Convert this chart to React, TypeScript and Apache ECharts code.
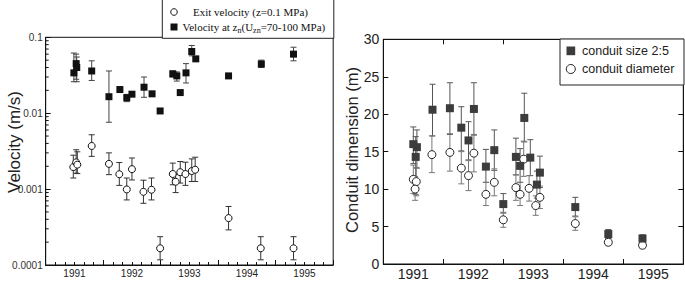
import React, { useEffect, useRef } from "react";
import * as echarts from "echarts";

// ---------- shared ----------
const YEARS = ["1991", "1992", "1993", "1994", "1995"];
const LEFT_Y_LABELS = ["0.0001", "0.001", "0.01", "0.1"];
const LOG_MINOR_MULT = [2, 3, 4, 5, 6, 7, 8, 9];
const LOG_DECADES = [0.0001, 0.001, 0.01];

// ---------- left panel: velocity at z_n (filled squares) ----------
const VZ_T = [1991.49, 1991.53, 1991.54, 1991.8, 1992.1, 1992.29, 1992.41, 1992.5, 1992.71, 1992.85, 1992.99, 1993.21, 1993.28, 1993.34, 1993.44, 1993.54, 1993.61, 1994.18, 1994.75, 1995.31];
const VZ_V = [0.034, 0.045, 0.04, 0.036, 0.0165, 0.0205, 0.016, 0.0178, 0.022, 0.018, 0.0107, 0.033, 0.031, 0.0187, 0.034, 0.065, 0.052, 0.031, 0.0445, 0.06];
const VZ_LO = [0.026, 0.028, 0.026, 0.027, 0.0076, null, 0.0142, null, 0.0162, null, null, 0.03, 0.0265, null, 0.025, 0.057, null, null, 0.04, 0.049];
const VZ_HI = [0.062, 0.06, 0.055, 0.049, 0.036, null, 0.0177, null, 0.03, null, null, 0.036, 0.035, null, 0.045, 0.078, null, null, 0.05, 0.074];

// ---------- left panel: exit velocity (open circles) ----------
const VE_T = [1991.48, 1991.53, 1991.55, 1991.8, 1992.1, 1992.28, 1992.41, 1992.5, 1992.7, 1992.84, 1992.99, 1993.21, 1993.26, 1993.34, 1993.43, 1993.54, 1993.6, 1994.18, 1994.74, 1995.31];
const VE_V = [0.00195, 0.00225, 0.0021, 0.0037, 0.00215, 0.00157, 0.00099, 0.00183, 0.00092, 0.00098, 0.000166, 0.00158, 0.00125, 0.00167, 0.00158, 0.00173, 0.0018, 0.000415, 0.000166, 0.000166];
const VE_LO = [0.0014, 0.00162, 0.0016, 0.0027, 0.00155, 0.00112, 0.00072, 0.00132, 0.00065, 0.00072, 0.000117, 0.00114, 0.0009, 0.0012, 0.00112, 0.00126, 0.00126, 0.00029, 0.000117, 0.000117];
const VE_HI = [0.0028, 0.0033, 0.0031, 0.0052, 0.003, 0.00224, 0.0014, 0.00257, 0.00131, 0.0014, 0.000236, 0.0022, 0.00155, 0.00231, 0.00226, 0.0025, 0.00263, 0.00059, 0.000236, 0.000236];

// ---------- right panel: conduit size 2:5 (filled squares) ----------
const CS_T = [1991.5, 1991.56, 1991.54, 1991.82, 1992.11, 1992.3, 1992.42, 1992.51, 1992.71, 1992.85, 1993.0, 1993.21, 1993.28, 1993.35, 1993.45, 1993.56, 1993.61, 1994.2, 1994.75, 1995.32];
const CS_V = [16.0, 15.6, 14.3, 20.6, 20.8, 18.2, 16.5, 20.7, 13.0, 15.2, 8.0, 14.3, 13.1, 19.5, 14.2, 10.6, 12.2, 7.6, 4.0, 3.4];
const CS_LO = [13.4, 12.8, 9.3, 17.1, 17.3, 15.1, 13.9, 17.2, 10.9, 12.5, 6.8, 11.9, 10.9, 16.3, 11.8, 8.8, 10.2, 6.4, 3.4, 2.9];
const CS_HI = [18.3, 17.9, 17.0, 24.0, 24.2, 21.0, 19.0, 24.2, 15.3, 17.9, 9.4, 16.8, 15.4, 22.8, 16.6, 12.4, 14.4, 8.9, 4.6, 3.9];

// ---------- right panel: conduit diameter (open circles) ----------
const CD_T = [1991.5, 1991.55, 1991.53, 1991.81, 1992.11, 1992.3, 1992.42, 1992.51, 1992.71, 1992.85, 1993.0, 1993.21, 1993.28, 1993.34, 1993.43, 1993.54, 1993.61, 1994.2, 1994.75, 1995.32];
const CD_V = [11.3, 11.0, 10.0, 14.6, 14.9, 12.8, 11.8, 14.8, 9.3, 10.9, 5.9, 10.2, 9.3, 14.0, 10.1, 7.8, 8.9, 5.4, 2.9, 2.5];
const CD_LO = [9.4, 9.1, 8.5, 12.2, 12.4, 10.7, 9.8, 12.3, 7.8, 9.1, 4.9, 8.5, 7.8, 11.7, 8.4, 6.5, 7.4, 4.5, 2.5, 2.1];
const CD_HI = [13.2, 12.9, 11.7, 17.1, 17.4, 15.0, 13.8, 17.3, 10.9, 12.7, 6.9, 11.9, 10.9, 16.4, 11.8, 9.1, 10.4, 6.3, 3.4, 2.9];

const SANS = "'Liberation Sans', Arial, sans-serif";
const SERIF = "'Liberation Serif', 'Times New Roman', serif";
const AXIS_COLOR = "#111";

function points(t: number[], v: number[]) {
  return t.map((x, i) => [x, v[i]]);
}
function bars(t: number[], lo: (number | null)[], hi: (number | null)[]) {
  return t
    .map((x, i) => [x, lo[i], hi[i]])
    .filter((d) => d[1] != null && d[2] != null);
}

function errorBar(cap: number, color: string) {
  return (_params: any, api: any) => {
    const x = api.value(0);
    const lo = api.coord([x, api.value(1)]);
    const hi = api.coord([x, api.value(2)]);
    const h = cap / 2;
    const style = { stroke: color, lineWidth: 1 };
    return {
      type: "group",
      children: [
        { type: "line", shape: { x1: hi[0], y1: hi[1], x2: lo[0], y2: lo[1] }, style },
        { type: "line", shape: { x1: hi[0] - h, y1: hi[1], x2: hi[0] + h, y2: hi[1] }, style },
        { type: "line", shape: { x1: lo[0] - h, y1: lo[1], x2: lo[0] + h, y2: lo[1] }, style },
      ],
    };
  };
}

export default function App() {
  const ref = useRef<HTMLDivElement>(null);

  useEffect(() => {
    document.body.style.margin = "0";
    if (!ref.current) return;
    const chart = echarts.init(ref.current, undefined, { renderer: "svg" });

    const minorLog: number[][] = [];
    LOG_DECADES.forEach((d) => LOG_MINOR_MULT.forEach((m) => minorLog.push([1991, d * m])));

    const valueX = (gridIndex: number, extra: any = {}) => ({
      type: "value",
      gridIndex,
      min: 1991,
      max: 1996,
      interval: 1,
      axisLine: { show: true, lineStyle: { color: AXIS_COLOR, width: 1 } },
      axisTick: { show: true, inside: true, length: 5, lineStyle: { color: AXIS_COLOR } },
      axisLabel: { show: false },
      splitLine: { show: false },
      ...extra,
    });
    const catX = (gridIndex: number, fontSize: number, margin: number) => ({
      type: "category",
      gridIndex,
      data: YEARS,
      position: "bottom",
      axisLine: { show: false },
      axisTick: { show: false },
      splitLine: { show: false },
      axisLabel: { show: true, fontFamily: SANS, fontSize, color: "#222", margin },
    });

    const option: any = {
      animation: false,
      backgroundColor: "#fff",
      grid: [
        { left: 45.7, top: 37.3, width: 287.5, height: 227.7, show: true, borderColor: AXIS_COLOR, borderWidth: 1, backgroundColor: "transparent" },
        { left: 383.3, top: 39.3, width: 300, height: 225.7, show: true, borderColor: AXIS_COLOR, borderWidth: 1, backgroundColor: "transparent" },
      ],
      xAxis: [
        valueX(0, { minorTick: { show: true, splitNumber: 6, length: 3, lineStyle: { color: AXIS_COLOR } } }),
        catX(0, 10, 3),
        valueX(1),
        catX(1, 14, 3),
        valueX(1, { position: "top" }),
      ],
      yAxis: [
        {
          type: "log",
          logBase: 10,
          gridIndex: 0,
          min: 0.0001,
          max: 0.1,
          axisLine: { show: true, lineStyle: { color: AXIS_COLOR } },
          axisTick: { show: true, inside: true, length: 5, lineStyle: { color: AXIS_COLOR } },
          splitLine: { show: false },
          axisLabel: {
            fontFamily: SANS,
            fontSize: 10,
            color: "#333",
            margin: 3,
            formatter: (v: number) => LEFT_Y_LABELS[Math.round(Math.log10(v)) + 4],
          },
        },
        {
          type: "value",
          gridIndex: 1,
          min: 0,
          max: 30,
          interval: 5,
          axisLine: { show: true, lineStyle: { color: AXIS_COLOR } },
          axisTick: { show: true, inside: true, length: 5, lineStyle: { color: AXIS_COLOR } },
          splitLine: { show: false },
          axisLabel: { fontFamily: SANS, fontSize: 14, color: "#222", margin: 4 },
        },
        {
          type: "value",
          gridIndex: 1,
          position: "right",
          min: 0,
          max: 30,
          interval: 5,
          axisLine: { show: true, lineStyle: { color: AXIS_COLOR } },
          axisTick: { show: true, inside: true, length: 5, lineStyle: { color: AXIS_COLOR } },
          splitLine: { show: false },
          axisLabel: { show: false },
        },
      ],
      series: [
        // left panel
        {
          type: "custom",
          xAxisIndex: 0,
          yAxisIndex: 0,
          renderItem: (_p: any, api: any) => {
            const p = api.coord([api.value(0), api.value(1)]);
            return { type: "line", shape: { x1: p[0], y1: p[1], x2: p[0] + 3, y2: p[1] }, style: { stroke: AXIS_COLOR, lineWidth: 1 } };
          },
          encode: { x: 0, y: 1 },
          data: minorLog,
          silent: true,
          z: 1,
        },
        { type: "custom", xAxisIndex: 0, yAxisIndex: 0, renderItem: errorBar(6, "#444"), encode: { x: 0, y: [1, 2] }, data: bars(VZ_T, VZ_LO, VZ_HI), z: 2 },
        { type: "custom", xAxisIndex: 0, yAxisIndex: 0, renderItem: errorBar(6, "#333"), encode: { x: 0, y: [1, 2] }, data: bars(VE_T, VE_LO, VE_HI), z: 2 },
        {
          type: "scatter",
          name: "Velocity at zn",
          xAxisIndex: 0,
          yAxisIndex: 0,
          symbol: "rect",
          symbolSize: 7,
          itemStyle: { color: "#111", opacity: 1 },
          data: points(VZ_T, VZ_V),
          z: 3,
        },
        {
          type: "scatter",
          name: "Exit velocity",
          xAxisIndex: 0,
          yAxisIndex: 0,
          symbol: "circle",
          symbolSize: 7,
          itemStyle: { color: "#fff", borderColor: "#111", borderWidth: 1, opacity: 1 },
          data: points(VE_T, VE_V),
          z: 3,
        },
        // right panel
        { type: "custom", xAxisIndex: 2, yAxisIndex: 1, renderItem: errorBar(6, "#555"), encode: { x: 0, y: [1, 2] }, data: bars(CS_T, CS_LO, CS_HI), z: 2 },
        { type: "custom", xAxisIndex: 2, yAxisIndex: 1, renderItem: errorBar(6, "#777"), encode: { x: 0, y: [1, 2] }, data: bars(CD_T, CD_LO, CD_HI), z: 2 },
        {
          type: "scatter",
          name: "conduit diameter",
          xAxisIndex: 2,
          yAxisIndex: 1,
          symbol: "circle",
          symbolSize: 8,
          itemStyle: { color: "#fff", borderColor: "#222", borderWidth: 1, opacity: 1 },
          data: points(CD_T, CD_V),
          z: 3,
        },
        {
          type: "scatter",
          name: "conduit size 2:5",
          xAxisIndex: 2,
          yAxisIndex: 1,
          symbol: "rect",
          symbolSize: 8,
          itemStyle: { color: "#3c3c3c", opacity: 1 },
          data: points(CS_T, CS_V),
          z: 4,
        },
      ],
      graphic: [
        // axis titles
        {
          type: "text",
          x: 14,
          y: 142,
          rotation: Math.PI / 2,
          z: 50,
          style: { text: "Velocity (m/s)", fontFamily: SANS, fontSize: 17, fill: "#222", align: "center", verticalAlign: "middle" },
        },
        {
          type: "text",
          x: 352,
          y: 150,
          rotation: Math.PI / 2,
          z: 50,
          style: { text: "Conduit dimension (m)", fontFamily: SANS, fontSize: 16.5, fill: "#222", align: "center", verticalAlign: "middle" },
        },
        // left legend
        {
          type: "rect",
          z: 100,
          shape: { x: 162.3, y: -3, width: 171.5, height: 41.3 },
          style: { fill: "#fff", stroke: "#222", lineWidth: 1 },
        },
        {
          type: "circle",
          z: 101,
          shape: { cx: 174, cy: 12, r: 3.3 },
          style: { fill: "#fff", stroke: "#111", lineWidth: 1 },
        },
        {
          type: "text",
          z: 101,
          x: 193,
          y: 12,
          style: { text: "Exit velocity (z=0.1 MPa)", fontFamily: SERIF, fontSize: 11, fill: "#111", verticalAlign: "middle" },
        },
        {
          type: "rect",
          z: 101,
          shape: { x: 170.5, y: 23.5, width: 7, height: 7 },
          style: { fill: "#111" },
        },
        {
          type: "text",
          z: 101,
          x: 182.5,
          y: 27,
          style: {
            text: "Velocity at z{sub|n}(U{sub|zn}=70-100 MPa)",
            fontFamily: SERIF,
            fontSize: 11,
            lineHeight: 14,
            fill: "#111",
            verticalAlign: "middle",
            rich: {
              sub: { fontFamily: SERIF, fontSize: 8, lineHeight: 8, verticalAlign: "bottom", fill: "#111" },
            },
          },
        },
        // right legend
        {
          type: "rect",
          z: 100,
          shape: { x: 560, y: 39, width: 124, height: 46 },
          style: { fill: "#fff", stroke: "#222", lineWidth: 1 },
        },
        {
          type: "rect",
          z: 101,
          shape: { x: 566.5, y: 46.5, width: 8.7, height: 8.7 },
          style: { fill: "#3c3c3c" },
        },
        {
          type: "text",
          z: 101,
          x: 582,
          y: 51,
          style: { text: "conduit size 2:5", fontFamily: SANS, fontSize: 12.5, fill: "#222", verticalAlign: "middle" },
        },
        {
          type: "circle",
          z: 101,
          shape: { cx: 570.8, cy: 69, r: 4.5 },
          style: { fill: "#fff", stroke: "#222", lineWidth: 1 },
        },
        {
          type: "text",
          z: 101,
          x: 582,
          y: 69,
          style: { text: "conduit diameter", fontFamily: SANS, fontSize: 12.5, fill: "#222", verticalAlign: "middle" },
        },
      ],
    };

    chart.setOption(option);
    return () => chart.dispose();
  }, []);

  return (
    <div
      ref={ref}
      style={{ position: "absolute", left: 0, top: 0, width: 685, height: 281, background: "#fff" }}
    />
  );
}
